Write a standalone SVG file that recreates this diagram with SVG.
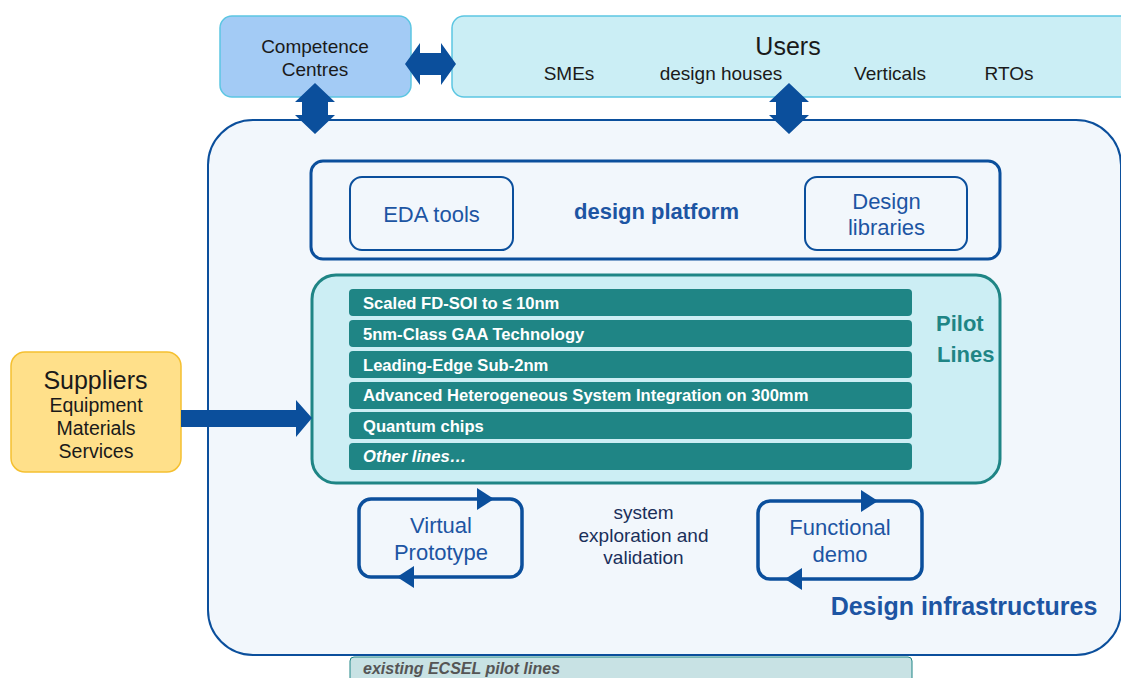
<svg xmlns="http://www.w3.org/2000/svg" width="1121" height="678" viewBox="0 0 1121 678">
<style>
text{font-family:"Liberation Sans",Arial,sans-serif}
.blk{fill:#1a1a1a}
.row{fill:#1f8585}
.rowt{fill:#fff;font-size:16.6px;font-weight:bold}
.blue{fill:#1d55a3}
.arr{fill:#0b4f9c}
.loop{fill:none;stroke:#0b4f9c;stroke-width:3.5}
</style>
<rect width="1121" height="678" fill="#fff"/>
<g id="design-infrastructures">
<path d="M253,120 H1076 A45,45 0 0 1 1121,165 V610 A45,45 0 0 1 1076,655 H253 A45,45 0 0 1 208,610 V165 A45,45 0 0 1 253,120 Z" fill="#f2f7fc" stroke="#0b4f9c" stroke-width="2"/>
<text x="964" y="615" text-anchor="middle" font-size="25" font-weight="bold" class="blue">Design infrastructures</text>
</g>
<g id="existing-ecsel">
<rect x="350" y="657" width="562" height="30" rx="4" fill="#c8e2e4" stroke="#1f8585" stroke-width="1"/>
<text x="363" y="674" font-size="16" font-weight="bold" font-style="italic" fill="#555">existing ECSEL pilot lines</text>
</g>
<g id="competence-centres">
<rect x="220" y="16" width="191" height="81" rx="12" fill="#a3cbf5" stroke="#5cc6e2" stroke-width="1.5"/>
<text x="315" y="52.5" text-anchor="middle" font-size="19" class="blk">Competence</text>
<text x="315" y="75.5" text-anchor="middle" font-size="19" class="blk">Centres</text>
</g>
<g id="users">
<rect x="452" y="16" width="690" height="81" rx="12" fill="#cbeef5" stroke="#5cc6e2" stroke-width="1.5"/>
<text x="788" y="55" text-anchor="middle" font-size="25" class="blk">Users</text>
<text x="569" y="80" text-anchor="middle" font-size="19" class="blk">SMEs</text>
<text x="721" y="80" text-anchor="middle" font-size="19" class="blk">design houses</text>
<text x="890" y="80" text-anchor="middle" font-size="19" class="blk">Verticals</text>
<text x="1009" y="80" text-anchor="middle" font-size="19" class="blk">RTOs</text>
</g>
<g id="design-platform">
<rect x="311" y="161" width="689" height="98" rx="12" fill="#f2f7fc" stroke="#0b4f9c" stroke-width="3"/>
<text x="656.5" y="219" text-anchor="middle" font-size="22" font-weight="bold" class="blue">design platform</text>
</g>
<g id="eda-tools">
<rect x="350" y="177" width="163" height="73" rx="12" fill="#f2f7fc" stroke="#0b4f9c" stroke-width="2"/>
<text x="431.5" y="222" text-anchor="middle" font-size="22" class="blue">EDA tools</text>
</g>
<g id="design-libraries">
<rect x="805" y="177" width="162" height="73" rx="12" fill="#f2f7fc" stroke="#0b4f9c" stroke-width="2"/>
<text x="886.5" y="209" text-anchor="middle" font-size="22" class="blue">Design</text>
<text x="886.5" y="235" text-anchor="middle" font-size="22" class="blue">libraries</text>
</g>
<g id="pilot-lines">
<rect x="312" y="275" width="688" height="208" rx="24" fill="#cceef4" stroke="#1f8585" stroke-width="3"/>
<text x="936" y="331" font-size="22" font-weight="bold" fill="#1f8585">Pilot</text>
<text x="937" y="362" font-size="22" font-weight="bold" fill="#1f8585">Lines</text>
<rect class="row" x="349" y="289" width="563" height="27" rx="4"/>
<text class="rowt" x="363" y="309">Scaled FD-SOI to ≤ 10nm</text>
<rect class="row" x="349" y="320" width="563" height="27" rx="4"/>
<text class="rowt" x="363" y="340">5nm-Class GAA Technology</text>
<rect class="row" x="349" y="351" width="563" height="27" rx="4"/>
<text class="rowt" x="363" y="370.5">Leading-Edge Sub-2nm</text>
<rect class="row" x="349" y="382" width="563" height="27" rx="4"/>
<text class="rowt" x="363" y="401">Advanced Heterogeneous System Integration on 300mm</text>
<rect class="row" x="349" y="412" width="563" height="27" rx="4"/>
<text class="rowt" x="363" y="431.5">Quantum chips</text>
<rect class="row" x="349" y="443" width="563" height="27" rx="4"/>
<text class="rowt" x="363" y="462" font-style="italic">Other lines…</text>
</g>
<g id="suppliers">
<rect x="11" y="352" width="170" height="120" rx="14" fill="#ffe08a" stroke="#f5c030" stroke-width="1.5"/>
<text x="95.5" y="389" text-anchor="middle" font-size="25" class="blk">Suppliers</text>
<text x="96" y="412" text-anchor="middle" font-size="19.5" class="blk">Equipment</text>
<text x="96" y="435" text-anchor="middle" font-size="19.5" class="blk">Materials</text>
<text x="96" y="458" text-anchor="middle" font-size="19.5" class="blk">Services</text>
</g>
<g id="virtual-prototype">
<rect class="loop" x="359" y="499" width="163" height="78" rx="12"/>
<polygon class="arr" points="477,488 494,499 477,510"/>
<polygon class="arr" points="414,566 397,577 414,588"/>
<text x="441" y="533" text-anchor="middle" font-size="22" class="blue">Virtual</text>
<text x="441" y="560" text-anchor="middle" font-size="22" class="blue">Prototype</text>
</g>
<g id="system-exploration">
<text x="643.5" y="519" text-anchor="middle" font-size="19" fill="#1a2f5a">system</text>
<text x="643.5" y="542" text-anchor="middle" font-size="19" fill="#1a2f5a">exploration and</text>
<text x="643.5" y="564" text-anchor="middle" font-size="19" fill="#1a2f5a">validation</text>
</g>
<g id="functional-demo">
<rect class="loop" x="758" y="501" width="164" height="78" rx="12"/>
<polygon class="arr" points="861,490 878,501 861,512"/>
<polygon class="arr" points="802,568 785,579 802,590"/>
<text x="840" y="535" text-anchor="middle" font-size="22" class="blue">Functional</text>
<text x="840" y="562" text-anchor="middle" font-size="22" class="blue">demo</text>
</g>
<g id="connectors">
<polygon class="arr" points="405,64 420,43 420,53 441,53 441,43 456,64 441,85 441,75 420,75 420,85"/>
<polygon class="arr" points="315,83 335,102 328,102 328,115 335,115 315,134 295,115 302,115 302,102 295,102"/>
<polygon class="arr" points="789,83 809,102 802,102 802,115 809,115 789,134 769,115 776,115 776,102 769,102"/>
<polygon class="arr" points="181,410 296,410 296,400 312,418 296,437 296,427 181,427"/>
</g>
</svg>
